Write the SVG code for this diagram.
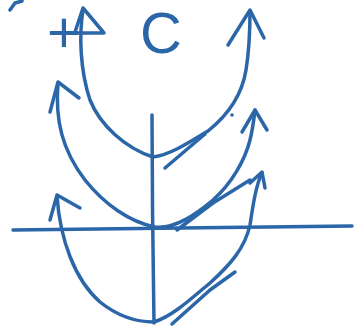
<svg xmlns="http://www.w3.org/2000/svg" width="358" height="328" viewBox="0 0 358 328">
<style>
.s{fill:none;stroke:#2b66a8;stroke-width:3.5;stroke-linecap:round;stroke-linejoin:round}
.t{font-family:"Liberation Sans",Arial,sans-serif;fill:#2b66a8}
</style>
<rect width="358" height="328" fill="#fff"/>
<g id="axes">
<path class="s" d="M152,115 C152,180 153,260 154,323"/>
<path class="s" d="M13,230 C100,228 250,228 352,226"/>
</g>
<g id="connectors">
<path class="s" d="M83,10 C79,35 80,70 90,100 C100,125 125,148 153,157 C170,155 190,142 208,131 C228,115 242,95 246,70 C250,45 250,25 250,11"/>
<path class="s" d="M75,32 L83,8 L104,33 L76,33"/>
<path class="s" d="M228,45 L250,10 L264,38"/>
<path class="s" d="M165,168 L205,134"/>
<circle cx="232" cy="115" r="1.8" fill="#2b66a8"/>
<path class="s" d="M58,83 C55,120 62,150 85,180 C105,205 130,222 155,227 C175,229 195,215 213,200 C232,183 245,160 250,140 C253,128 254,118 255,110"/>
<path class="s" d="M50,112 L58,82 L79,98"/>
<path class="s" d="M242,132 L255,110 L267,130"/>
<path class="s" d="M177,230 L213,203 L250,180"/>
<path class="s" d="M57,196 C60,240 75,280 100,302 C120,318 140,322 154,322 C175,315 195,295 210,283 C230,265 245,248 250,225 C253,205 256,185 262,173"/>
<path class="s" d="M50,220 L57,195 L80,208"/>
<path class="s" d="M250,183 L262,172 L265,188"/>
<path class="s" d="M172,324 L210,290 L235,272"/>
<path class="s" d="M10,10 L15,3 L22,1"/>
</g>
<g id="labels">
<text class="t" x="47" y="52" font-size="58">+</text>
<text class="t" x="140" y="53" font-size="58">C</text>
</g>
</svg>
